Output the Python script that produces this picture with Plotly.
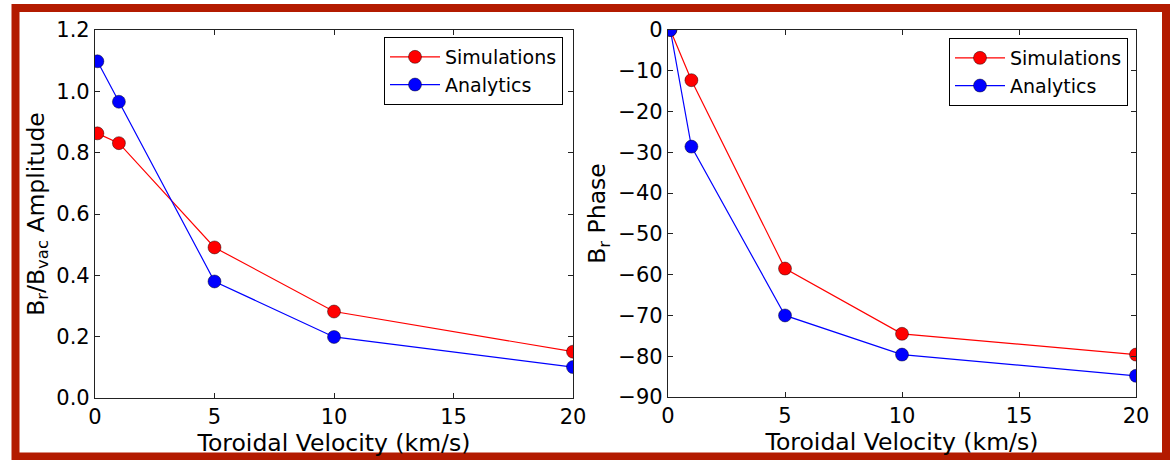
import plotly.graph_objects as go

# Toroidal velocity values (km/s)
velocity = [0.1, 1, 5, 10, 20]

# Br / Bvac amplitude
amp_simulations = [0.863, 0.831, 0.491, 0.282, 0.151]
amp_analytics = [1.098, 0.966, 0.380, 0.199, 0.101]

# Br phase (degrees)
phase_simulations = [0.0, -12.3, -58.5, -74.5, -79.6]
phase_analytics = [0.0, -28.6, -70.0, -79.6, -84.8]

x_ticks = [0, 5, 10, 15, 20]
amp_ticks = [0.0, 0.2, 0.4, 0.6, 0.8, 1.0, 1.2]
phase_ticks = [-90, -80, -70, -60, -50, -40, -30, -20, -10, 0]

W, H = 1170, 460
FONT = "DejaVu Sans"
RED = "#ff0000"
BLUE = "#0000ff"
FRAME = "#b31b00"


def px_x(v):
    return v / W


def px_y(v):
    return 1 - v / H


fig = go.Figure()


def add_series(x, y, name, color, xa, ya, legend):
    fig.add_trace(go.Scatter(
        x=x, y=y, name=name, mode="lines+markers",
        line=dict(color=color, width=1.2),
        marker=dict(color=color, size=13, line=dict(color="rgba(0,0,0,0.55)", width=0.8)),
        xaxis=xa, yaxis=ya, legend=legend,
    ))


add_series(velocity, amp_simulations, "Simulations", RED, "x", "y", "legend")
add_series(velocity, amp_analytics, "Analytics", BLUE, "x", "y", "legend")
add_series(velocity, phase_simulations, "Simulations", RED, "x2", "y2", "legend2")
add_series(velocity, phase_analytics, "Analytics", BLUE, "x2", "y2", "legend2")

axis_common = dict(
    automargin=False,
    showline=True, linecolor="#222", linewidth=1.2, mirror="ticks",
    ticks="inside", ticklen=5, tickwidth=1, tickcolor="#222",
    showgrid=False, zeroline=False,
    tickfont=dict(family=FONT, size=21, color="black"),
)
title_font = dict(family=FONT, size=23.5, color="black")

legend_common = dict(
    bgcolor="white", bordercolor="black", borderwidth=1,
    font=dict(family=FONT, size=19, color="black"),
    xanchor="right", yanchor="top", itemwidth=50,
    tracegroupgap=0,
)

fig.update_layout(
    template="none",
    width=W, height=H,
    margin=dict(l=0, r=0, t=0, b=0, autoexpand=False),
    paper_bgcolor="white", plot_bgcolor="white",
    font=dict(family=FONT, color="black"),
    xaxis=dict(domain=[px_x(95), px_x(573)], range=[0, 20], tickvals=x_ticks,
               anchor="y",
               title=dict(text="Toroidal Velocity (km/s)", font=title_font, standoff=4),
               **axis_common),
    yaxis=dict(domain=[px_y(398), px_y(30)], range=[0, 1.2], tickvals=amp_ticks,
               tickformat=".1f", anchor="x",
               title=dict(text="B<sub>r</sub>/B<sub>vac</sub> Amplitude", font=title_font, standoff=5),
               **axis_common),
    xaxis2=dict(domain=[px_x(668), px_x(1136)], range=[0, 20], tickvals=x_ticks,
                anchor="y2",
                title=dict(text="Toroidal Velocity (km/s)", font=title_font, standoff=4),
                **axis_common),
    yaxis2=dict(domain=[px_y(397), px_y(30)], range=[-90, 0], tickvals=phase_ticks,
                anchor="x2",
                title=dict(text="B<sub>r</sub> Phase", font=title_font, standoff=6),
                **axis_common),
    legend=dict(x=px_x(563), y=px_y(37), **legend_common),
    legend2=dict(x=px_x(1128), y=px_y(38), **legend_common),
    shapes=[dict(
        type="rect", xref="paper", yref="paper", layer="above",
        x0=px_x(15.5), x1=px_x(1166), y0=px_y(456.5), y1=px_y(8),
        line=dict(color=FRAME, width=8),
    )],
)

fig.write_html("out.html")
